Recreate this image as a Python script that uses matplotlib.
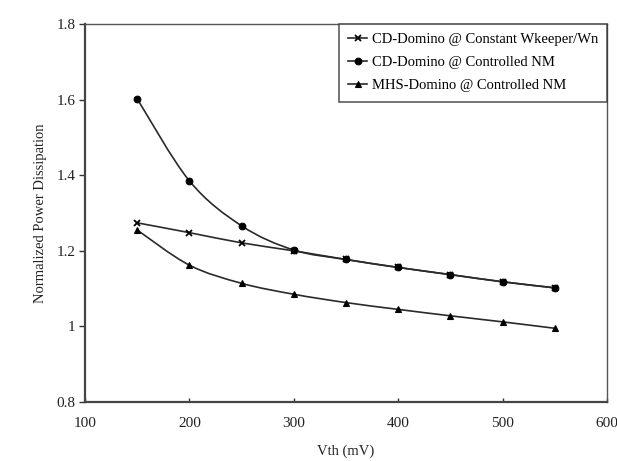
import matplotlib
matplotlib.use("Agg")
import matplotlib.pyplot as plt
import numpy as np
from matplotlib.path import Path
from matplotlib.patches import PathPatch
from matplotlib.lines import Line2D

plt.rcParams['font.family'] = ['Liberation Serif', 'DejaVu Serif']

vth = [150, 200, 250, 300, 350, 400, 450, 500, 550]
cd_const_wk = [1.274, 1.248, 1.221, 1.200, 1.177, 1.156, 1.137, 1.118, 1.102]
cd_ctrl_nm = [1.602, 1.385, 1.266, 1.202, 1.177, 1.156, 1.137, 1.118, 1.102]
mhs_ctrl_nm = [1.255, 1.162, 1.114, 1.085, 1.063, 1.045, 1.028, 1.012, 0.995]

labels = ["CD-Domino @ Constant Wkeeper/Wn",
          "CD-Domino @ Controlled NM",
          "MHS-Domino @ Controlled NM"]
markers = ['x', 'o', '^']
msizes = [4.5, 4.8, 4.4]

xticks = [100, 200, 300, 400, 500, 600]
yticks = [0.8, 1.0, 1.2, 1.4, 1.6, 1.8]
ytick_labels = ['0.8', '1', '1.2', '1.4', '1.6', '1.8']

W, H = 617, 461
fig = plt.figure(figsize=(W / 100, H / 100), dpi=100)
ax = fig.add_axes([85 / W, (H - 402) / H, 522 / W, 378 / H])

col = '#2a2a2a'


def smooth_path(x, y):
    pts = np.column_stack([x, y]).astype(float)
    n = len(pts)
    verts = [pts[0]]
    codes = [Path.MOVETO]
    for i in range(n - 1):
        p0 = pts[i - 1] if i > 0 else pts[i]
        p1 = pts[i]
        p2 = pts[i + 1]
        p3 = pts[i + 2] if i + 2 < n else pts[i + 1]
        c1 = p1 + (p2 - p0) / 6.0
        c2 = p2 - (p3 - p1) / 6.0
        verts += [c1, c2, p2]
        codes += [Path.CURVE4] * 3
    return Path(verts, codes)


series = [cd_const_wk, cd_ctrl_nm, mhs_ctrl_nm]
handles = []
for vals, m, ms, lab in zip(series, markers, msizes, labels):
    patch = PathPatch(smooth_path(vth, vals), facecolor='none', edgecolor=col,
                      lw=1.2, zorder=2)
    ax.add_patch(patch)
    mew = 1.3 if m == 'x' else 0.8
    ax.plot(vth, vals, linestyle='none', marker=m, markersize=ms,
            color='black', mew=mew, zorder=3)
    handles.append(Line2D([], [], color=col, lw=1.2, marker=m, markersize=ms,
                          mew=mew, markerfacecolor='black', markeredgecolor='black'))

ax.set_xlim(100, 600)
ax.set_ylim(0.8, 1.8)
ax.set_xticks(xticks)
ax.set_yticks(yticks)
ax.set_yticklabels(ytick_labels)
ax.tick_params(axis='y', direction='out', length=4, width=1, colors='#333333',
               labelsize=11, labelcolor='#222222', pad=3)
ax.tick_params(axis='x', direction='in', length=3, width=1, colors='#333333',
               labelsize=11, labelcolor='#222222', pad=11)

for s in ['left', 'bottom']:
    ax.spines[s].set_color('#444444')
    ax.spines[s].set_linewidth(1.6)
for s in ['top', 'right']:
    ax.spines[s].set_color('#555555')
    ax.spines[s].set_linewidth(1.0)

ax.set_xlabel('Vth (mV)', fontsize=10.5, color='#222222', labelpad=10)
ax.set_ylabel('Normalized Power Dissipation', fontsize=10.5, color='#222222', labelpad=7)

leg = ax.legend(handles, labels, loc='upper right', borderaxespad=0,
                fontsize=10.5, frameon=True, fancybox=False, handlelength=1.3,
                handletextpad=0.3, labelspacing=0.68, borderpad=0.62)
leg.get_frame().set_edgecolor('#333333')
leg.get_frame().set_linewidth(1.2)

fig.savefig('out.png', dpi=100)
